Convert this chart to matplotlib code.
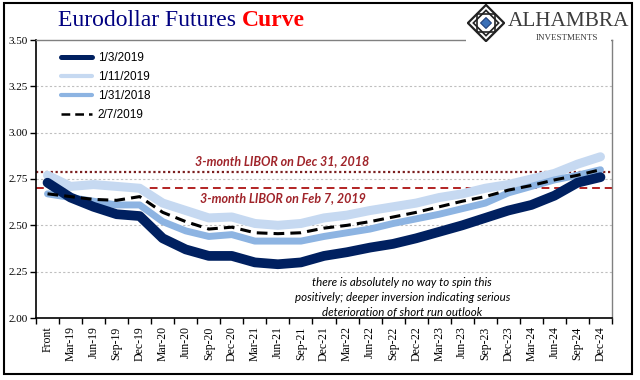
import matplotlib
matplotlib.use("Agg")
import matplotlib.pyplot as plt
from matplotlib.patches import Polygon, Rectangle

# ---- data ----
contracts = ["Front", "Mar-19", "Jun-19", "Sep-19", "Dec-19", "Mar-20", "Jun-20", "Sep-20",
             "Dec-20", "Mar-21", "Jun-21", "Sep-21", "Dec-21", "Mar-22", "Jun-22", "Sep-22",
             "Dec-22", "Mar-23", "Jun-23", "Sep-23", "Dec-23", "Mar-24", "Jun-24", "Sep-24",
             "Dec-24"]
curve_jan3_2019 = [2.73, 2.65, 2.60, 2.56, 2.55, 2.43, 2.37, 2.335, 2.335, 2.30, 2.29, 2.30,
                   2.335, 2.355, 2.38, 2.40, 2.43, 2.465, 2.50, 2.54, 2.58, 2.61, 2.66, 2.73, 2.76]
curve_jan11_2019 = [2.77, 2.71, 2.72, 2.71, 2.70, 2.62, 2.58, 2.54, 2.545, 2.51, 2.50, 2.51,
                    2.54, 2.555, 2.58, 2.60, 2.62, 2.65, 2.67, 2.70, 2.72, 2.75, 2.78, 2.83, 2.87]
curve_jan31_2018 = [2.67, 2.65, 2.63, 2.61, 2.61, 2.52, 2.47, 2.44, 2.45, 2.415, 2.415, 2.415,
                    2.44, 2.46, 2.48, 2.51, 2.535, 2.56, 2.59, 2.62, 2.675, 2.71, 2.745, 2.77, 2.80]
curve_feb7_2019 = [2.67, 2.655, 2.64, 2.635, 2.655, 2.57, 2.52, 2.48, 2.49, 2.46, 2.455, 2.46,
                   2.485, 2.50, 2.52, 2.545, 2.57, 2.60, 2.63, 2.655, 2.69, 2.715, 2.745, 2.77, 2.80]
libor_dec31_2018 = 2.79
libor_feb7_2019 = 2.70
y_ticks = [2.00, 2.25, 2.50, 2.75, 3.00, 3.25, 3.50]

NAVY = "#002060"
LIGHT = "#C6D9F1"
MEDIUM = "#8DB4E2"

fig = plt.figure(figsize=(6.4, 3.8), dpi=100)
ax = fig.add_axes([36 / 640, 1 - 318 / 380, 576 / 640, 278 / 380])

x = list(range(len(contracts)))
ax.plot(x, curve_jan3_2019, color=NAVY, lw=7, solid_capstyle="round", label="1/3/2019", zorder=3)
ax.plot(x, curve_jan11_2019, color=LIGHT, lw=6.5, solid_capstyle="round", label="1/11/2019", zorder=2)
ax.plot(x, curve_jan31_2018, color=MEDIUM, lw=5, solid_capstyle="round", label="1/31/2018", zorder=2.5)
ax.plot(x, curve_feb7_2019, color="black", lw=2.2, ls=(0, (3.5, 2)), label="2/7/2019", zorder=4)

ax.axhline(libor_dec31_2018, color="#7B1F1F", lw=1.6, ls=(0, (1, 1.2)), zorder=1.5)
ax.axhline(libor_feb7_2019, color="#B22222", lw=1.4, ls=(0, (4, 2.5)), zorder=1.5)

# annotations
txt_style = dict(color="#A0242A", fontsize=9, style="italic", fontweight="bold",
                 family="Lato", ha="center", va="center")
ax.text(10.2, 2.845, "3-month LIBOR on Dec 31, 2018", **txt_style)
ax.text(10.2, 2.645, "3-month LIBOR on Feb 7, 2019", **txt_style)
ax.text(15.4, 2.11, "there is absolutely no way to spin this\npositively; deeper inversion indicating serious\n"
        "deterioration of short run outlook", ha="center", va="center", style="italic",
        family="Lato", fontsize=8.3, linespacing=1.45, color="black")

ax.set_xlim(-0.5, len(contracts) - 0.5)
ax.set_ylim(2.0, 3.5)
ax.set_yticks(y_ticks)
ax.set_yticklabels([f"{v:.2f}" for v in y_ticks], fontsize=8, family="Liberation Serif")
for v in y_ticks[1:-1]:
    ax.axhline(v, color="#BFBFBF", lw=0.8, ls=(0, (2, 2)), zorder=0)

ax.set_xticks(x)
ax.set_xticklabels(contracts, rotation=90, fontsize=8.5, family="Liberation Serif")
ax.set_xticks([i - 0.5 for i in range(len(contracts) + 1)], minor=True)
ax.tick_params(axis="x", which="major", length=0, pad=6)
ax.tick_params(axis="x", which="minor", length=4, width=1, direction="out")
ax.tick_params(axis="y", length=4, width=1, direction="out", pad=2)

for side in ("top", "right"):
    ax.spines[side].set_color("#808080")
    ax.spines[side].set_linewidth(1)
ax.spines["left"].set_linewidth(1.2)
ax.spines["bottom"].set_linewidth(1.2)

leg = ax.legend(loc="upper left", bbox_to_anchor=(0.025, 0.995), frameon=False,
                prop={"family": "Liberation Sans", "size": 8.5},
                handlelength=2.6, labelspacing=0.6, handletextpad=0.5)
for handle, w in zip(leg.get_lines(), [3.6, 3.0, 3.0, 1.8]):
    handle.set_linewidth(w)

# title
fig.text(58 / 640, 0.945, "Eurodollar Futures ", fontsize=17, color="#000080",
         family="Liberation Serif", va="center", ha="left")
fig.text(242 / 640, 0.945, "Curve", fontsize=17, color="#FF0000", fontweight="bold",
         family="Liberation Serif", va="center", ha="left")

# logo block
fig.patches.append(Rectangle((466 / 640, 1 - 45 / 380), 145 / 640, 42 / 380,
                             transform=fig.transFigure, facecolor="white", edgecolor="none",
                             zorder=5))
lax = fig.add_axes([467 / 640, 1 - 42 / 380, 38 / 640, 38 / 380], zorder=6)
lax.set_xlim(-1.05, 1.05)
lax.set_ylim(-1.05, 1.05)
lax.axis("off")
lax.add_patch(Polygon([(0, 1), (1, 0), (0, -1), (-1, 0)], closed=True, fc="white", ec="#222222", lw=1.6))
lax.add_patch(Polygon([(0, 0.7), (0.7, 0), (0, -0.7), (-0.7, 0)], closed=True, fc="none", ec="#222222", lw=1.2))
lax.add_patch(Polygon([(-0.5, 0.5), (0.5, 0.5), (0.5, -0.5), (-0.5, -0.5)], closed=True, fc="none", ec="#222222", lw=1.2))
lax.add_patch(Polygon([(0, 0.3), (0.3, 0), (0, -0.3), (-0.3, 0)], closed=True, fc="#3A70B8", ec="#1F3F7A", lw=0.8))
fig.text(508 / 640, 1 - 22 / 380, "ALHAMBRA", fontsize=15.3, color="#3C3C3C",
         family="Liberation Serif", va="center", ha="left", zorder=7)
fig.text(567 / 640, 1 - 38 / 380, "INVESTMENTS", fontsize=6.5, color="#3C3C3C",
         family="Liberation Serif", va="center", ha="center", zorder=7)

# outer frame
fig.patches.append(Rectangle((4 / 640, 1 - 374 / 380), 628 / 640, 371 / 380,
                             transform=fig.transFigure, facecolor="none", edgecolor="black",
                             lw=1.5, zorder=8))

fig.savefig("out.png", dpi=100)
